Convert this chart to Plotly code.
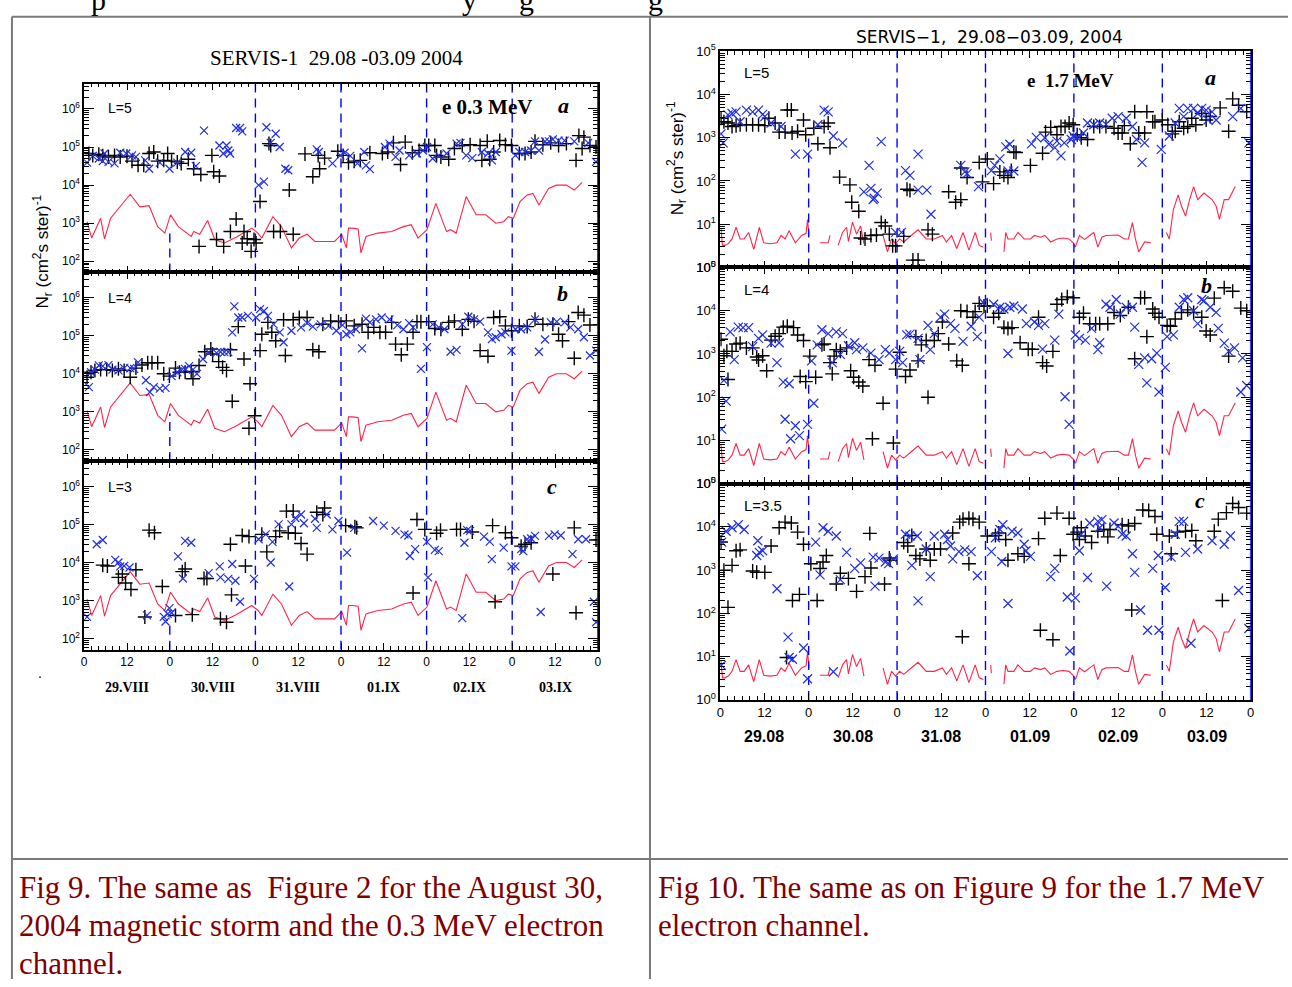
import plotly.graph_objects as go

W, H = 1292, 987

# ---------------- DATA ----------------
# time axis: hours since 29 Aug 2004 00 UT ; values are log10 of flux N_r (cm^2 s ster)^-1
HOUR_TICKS = list(range(0, 145, 12))
HOUR_TICK_TEXT = ["0", "12"] * 6 + ["0"]
DAY_BOUNDARIES = [24, 48, 72, 96, 120]
DATES_03 = ["29.VIII", "30.VIII", "31.VIII", "01.IX", "02.IX", "03.IX"]
DATES_17 = ["29.08", "30.08", "31.08", "01.09", "02.09", "03.09"]
L_SHELLS_03 = ["L=5", "L=4", "L=3"]
L_SHELLS_17 = ["L=5", "L=4", "L=3.5"]

# 0.3 MeV background (red line), same in all three panels
red_03 = [(0.8,3.04),(2.1,2.61),(4.6,3.13),(5.7,2.59),(7.4,3.13),(12.9,3.76),(15.6,3.43),(18.2,3.46),
          (20.6,2.91),(22.6,2.74),(24.2,3.22),(26.4,2.91),(30.0,2.65),(30.7,2.78),(32.4,2.71),(34.6,3.07),
          (36.6,2.57),(39.3,2.48),(42.6,2.63),(47.0,2.87),(48.7,2.74),(49.8,2.61),(52.9,3.17),(55.3,2.91),
          (58.1,2.35),(60.3,2.61),(62.5,2.71),(64.7,2.52),(70.2,2.52),(72.2,2.71),(73.5,2.35),(74.1,2.87),
          (75.2,2.87),(76.8,2.85),(77.6,2.22),(79.0,2.65),(82.3,2.74),(86.2,2.78),(89.5,2.91),(91.7,2.96),
          (93.6,2.61),(96.1,2.83),(98.6,3.52),(101.6,2.78),(102.7,2.83),(104.3,2.74),(107.1,3.70),(109.9,3.22),
          (112.6,3.22),(115.4,3.0),(117.6,3.04),(118.9,3.17),(120.3,3.13),(122.2,3.57),(124.2,3.74),(125.8,3.78),
          (127.5,3.48),(130.2,3.91),(132.4,4.0),(135.2,4.0),(137.4,3.87),(139.6,4.07)]

a03_plus = [(1.3,4.83),(2.4,4.78),(4.1,4.81),(5.2,4.77),(6.8,4.74),(8.5,4.78),(10.1,4.74),(12.0,4.76),(13.4,4.63),
            (15.1,4.52),(16.7,4.52),(18.2,4.83),(19.5,4.87),(20.6,4.63),(22.3,4.65),(23.4,4.83),(24.5,4.63),(26.1,4.61),
            (27.2,4.57),(29.2,4.68),(30.7,4.43),(32.7,4.28),(35.8,4.78),(36.3,4.35),(37.9,4.24),(42.6,3.11),(32.2,2.39),
            (37.1,2.57),(39.1,2.39),(41.0,2.78),(44.8,2.78),(44.3,2.48),(45.7,2.59),(46.8,2.26),(47.6,2.57),(48.2,2.48),
            (49.3,3.57),(51.8,5.09),(52.3,5.04),(53.1,2.78),(55.0,2.78),(58.6,2.71),(57.5,3.87),(61.9,4.82),(64.1,4.22),
            (66.0,4.43),(65.6,4.78),(67.4,4.71),(71.1,4.89),(72.6,4.78),(74.1,4.59),(75.7,4.63),(77.4,4.65),(80.1,4.85),
            (83.6,4.83),(85.1,4.87),(86.7,5.11),(88.7,4.54),(90.0,5.13),(92.0,4.85),(93.9,4.91),(95.5,5.04),(96.6,5.04),
            (98.3,5.04),(98.8,4.78),(100.0,4.74),(102.2,4.68),(103.8,4.96),(106.0,5.04),(108.2,5.06),(111.0,5.04),
            (111.5,4.65),(113.0,5.15),(113.7,4.68),(114.8,4.87),(116.5,5.17),(118.1,5.06),(119.8,5.04),(122.0,4.83),
            (123.6,4.83),(125.3,4.87),(126.4,5.15),(128.6,5.06),(130.8,5.11),(133.0,5.04),(135.2,5.09),(137.9,4.65),
            (138.7,5.30),(140.1,5.26),(139.6,4.96),(141.8,5.04),(143.5,5.0)]
a03_cross = [(0.8,4.59),(2.4,4.77),(4.1,4.70),(5.2,4.63),(5.7,4.83),(6.8,4.61),(8.5,4.57),(10.1,4.85),(11.8,4.83),
             (13.4,4.78),(14.5,4.74),(17.1,4.65),(18.2,4.43),(21.2,4.59),(23.9,4.43),(26.1,4.59),(28.3,4.87),(30.0,4.85),
             (31.3,4.50),(33.6,5.43),(37.9,5.04),(39.0,4.83),(39.9,5.04),(40.4,4.91),(40.9,4.83),(42.6,5.50),(43.7,5.50),
             (44.3,5.41),(48.9,4.0),(50.4,4.09),(51.1,5.52),(52.3,5.11),(53.7,5.35),(54.8,5.0),(56.4,4.43),(57.2,4.39),
             (65.2,4.94),(65.8,4.87),(69.6,4.57),(71.8,4.78),(73.0,4.85),(74.6,4.77),(76.6,4.57),(78.5,4.87),(79.0,4.52),
             (80.1,4.42),(84.3,5.0),(85.6,5.09),(87.3,4.74),(88.4,4.91),(91.1,4.78),(93.3,4.83),(95.0,4.91),(96.1,5.0),
             (97.7,4.70),(99.4,4.78),(101.6,4.83),(104.4,5.09),(105.5,5.11),(107.1,4.78),(108.8,4.71),(111.5,4.87),
             (113.2,4.83),(114.3,4.65),(115.4,4.87),(120.9,4.78),(122.0,4.87),(123.6,4.87),(125.3,4.91),(126.4,5.15),
             (127.5,4.91),(129.2,5.15),(130.3,5.15),(131.4,5.20),(133.0,5.17),(134.7,5.17),(137.4,5.15),(141.3,5.11),
             (143.5,4.61)]

b03_plus = [(0.8,3.91),(1.9,4.04),(3.0,4.09),(4.6,4.11),(6.3,4.11),(7.9,4.09),(9.6,4.13),(11.2,4.09),(12.9,3.91),
            (14.5,4.15),(16.2,4.23),(17.8,4.29),(19.0,4.29),(20.6,4.29),(22.3,4.0),(23.9,3.94),(25.6,4.15),(26.7,4.04),
            (28.3,4.04),(30.0,4.06),(30.5,3.87),(32.2,4.22),(33.8,4.58),(35.5,4.65),(36.0,4.52),(37.7,4.32),(38.8,4.17),
            (39.9,4.09),(41.0,4.63),(41.5,3.28),(43.2,5.24),(44.8,4.39),(46.5,3.74),(46.2,2.57),(47.8,2.90),(49.3,4.61),
            (49.8,5.04),(51.5,5.35),(52.6,5.09),(53.7,4.87),(55.9,5.42),(56.4,4.48),(58.6,5.42),(60.3,5.48),(62.5,5.48),
            (64.1,4.63),(65.8,4.58),(66.9,5.30),(69.1,5.39),(71.3,5.37),(73.5,5.39),(75.7,5.26),(77.9,5.30),(79.6,5.09),
            (81.2,5.22),(82.9,5.09),(84.5,5.09),(86.2,5.35),(87.3,4.78),(88.9,4.50),(90.6,4.78),(92.2,5.09),(93.3,5.37),
            (94.4,5.37),(96.6,5.37),(98.3,5.19),(100.0,5.17),(102.2,5.35),(103.8,5.39),(106.0,5.17),(107.7,5.43),
            (109.3,5.38),(111.0,4.61),(113.2,4.46),(114.8,5.48),(116.5,5.50),(118.1,5.26),(119.8,5.13),(122.0,5.26),
            (124.2,5.24),(126.4,5.43),(128.6,5.30),(131.4,5.30),(133.0,5.04),(134.1,4.87),(135.8,5.37),(137.4,4.41),
            (138.5,5.61),(140.1,5.54),(141.8,5.28)]
b03_cross = [(1.3,3.65),(1.9,4.04),(3.0,4.11),(4.1,4.22),(5.2,4.20),(6.8,4.23),(7.9,4.11),(9.6,4.09),(11.2,4.15),
             (12.9,4.15),(14.0,4.13),(15.1,4.30),(17.3,3.83),(18.4,3.52),(19.5,3.65),(21.2,3.61),(22.8,3.63),(24.5,3.94),
             (26.1,4.04),(27.2,4.09),(28.3,4.13),(29.4,4.20),(30.5,4.11),(31.6,4.0),(33.3,4.39),(34.9,4.57),(37.1,4.55),
             (38.2,4.58),(39.3,4.57),(40.4,4.57),(41.5,5.09),(42.1,5.77),(43.2,5.48),(44.3,5.48),(45.9,5.52),(48.2,5.48),
             (49.3,5.70),(50.4,5.65),(51.5,5.52),(53.1,5.30),(54.8,5.09),(55.9,4.83),(58.1,5.13),(60.8,5.22),(62.5,5.33),
             (64.1,5.24),(66.3,5.30),(68.5,5.26),(70.7,5.13),(72.4,5.28),(73.5,5.04),(74.6,5.09),(76.2,5.17),(77.9,4.67),
             (79.0,5.45),(80.1,5.35),(81.8,5.43),(83.4,5.48),(85.6,5.43),(87.8,5.28),(89.5,5.17),(91.1,5.33),(92.2,5.22),
             (94.4,4.13),(96.1,4.70),(97.7,5.30),(99.4,5.22),(101.0,5.17),(102.7,4.58),(104.4,4.63),(106.0,5.30),
             (107.7,5.50),(109.3,5.43),(111.0,5.37),(113.2,5.09),(114.3,4.91),(115.4,4.96),(117.0,5.04),(118.1,5.09),
             (119.8,4.61),(120.9,5.17),(122.5,5.17),(124.2,5.22),(126.4,5.43),(127.5,4.58),(129.2,4.90),(130.8,5.35),
             (132.5,5.37),(134.7,5.35),(136.3,5.22),(138.5,5.17),(140.1,4.96),(141.8,4.48),(143.5,4.61)]

c03_plus = [(5.2,3.93),(6.5,3.91),(9.6,3.61),(10.7,3.70),(11.6,3.46),(13.1,3.29),(14.5,3.81),(17.0,2.57),(18.2,4.85),
            (19.7,4.78),(21.9,3.37),(25.6,2.61),(27.5,3.76),(28.3,3.83),(30.3,2.63),(33.6,3.58),(34.4,3.58),(38.2,2.52),
            (39.9,2.43),(41.0,4.48),(41.3,3.15),(44.3,4.71),(46.2,4.68),(45.2,3.91),(49.8,4.74),(51.2,4.28),(53.7,4.68),
            (54.8,4.83),(56.7,5.35),(58.6,5.35),(57.2,4.78),(59.2,4.77),(60.8,4.50),(62.5,4.22),(65.2,5.32),(67.4,5.43),
            (66.9,5.26),(73.3,4.97),(75.9,4.94),(76.4,4.91),(92.2,3.20),(93.3,5.13),(95.5,4.87),(98.8,4.77),(99.9,4.85),
            (104.4,4.87),(105.5,4.87),(108.8,4.80),(114.5,4.97),(115.2,2.97),(118.1,4.78),(119.8,4.65),(122.5,4.43),
            (123.6,4.48),(125.3,4.52),(131.4,3.70),(137.4,4.91),(137.9,2.68),(143.5,4.59)]
c03_cross = [(0.8,2.57),(3.5,4.48),(5.2,4.59),(8.7,4.07),(9.6,4.0),(10.1,3.90),(11.2,3.91),(12.7,3.87),(17.6,2.61),
             (22.3,2.57),(22.8,2.45),(23.4,2.65),(23.9,2.80),(24.5,2.68),(26.3,4.16),(27.7,3.58),(28.3,4.57),(30.0,4.52),
             (34.9,3.72),(38.0,3.90),(38.2,3.61),(40.4,3.57),(41.5,3.96),(42.4,3.52),(43.7,2.97),(47.6,3.57),(48.9,4.61),
             (50.9,4.74),(52.3,4.0),(52.8,4.54),(54.5,5.0),(57.5,3.37),(58.1,5.0),(59.2,5.17),(60.8,5.26),(61.6,5.03),
             (64.7,5.15),(65.2,4.91),(68.0,5.26),(69.6,4.87),(71.3,5.09),(73.7,4.26),(75.7,4.91),(81.0,5.09),(84.0,4.97),
             (87.3,4.83),(89.8,4.74),(90.9,4.71),(91.3,4.17),(92.8,4.35),(96.1,4.54),(96.4,3.61),(98.3,4.33),(99.4,4.30),
             (106.0,2.54),(106.6,4.52),(107.4,4.85),(108.2,4.83),(112.1,4.68),(113.7,4.55),(114.3,4.09),(117.6,4.39),
             (119.8,3.90),(120.9,3.90),(122.5,4.35),(123.1,4.30),(124.2,4.61),(125.3,4.63),(126.4,4.70),(128.0,2.70),
             (130.3,4.70),(131.9,4.74),(133.6,4.71),(136.9,4.22),(138.5,4.61),(140.7,4.61),(142.9,2.97),(143.5,2.43)]

# 1.7 MeV background (red line, gaps = no data), same in all three panels
red_17 = [(0.2,0.90),(0.6,0.51),(1.3,0.51),(2.2,0.55),(3.2,0.66),(4.3,0.93),(5.4,0.66),(6.5,0.66),(7.7,0.81),
          (9.1,0.42),(10.6,0.93),(11.8,0.57),(13.5,0.55),(15.4,0.57),(16.5,0.74),(17.6,0.66),(18.7,0.85),(20.4,0.57),
          (22.1,0.74),(23.3,0.79),(23.7,1.11),(24.1,0.74), None,
          (27.1,0.57),(29.3,0.57),(29.8,0.74), None,
          (32.0,0.51),(33.2,0.81),(34.3,0.93),(34.8,0.60),(35.9,1.05),(37.0,0.77),(38.1,0.96),(39.0,0.55), None,
          (44.2,0.74),(45.4,0.36),(46.5,0.66),(47.6,0.55),(48.7,0.66),(49.8,0.59),(52.0,0.75),(53.7,0.87),(55.9,0.66),
          (58.1,0.66),(60.3,0.74),(61.4,0.59),(62.8,0.74),(64.2,0.44),(65.9,0.81),(67.5,0.40),(69.2,0.81),(70.3,0.51),
          (71.4,0.47), None,
          (73.4,0.81),(73.6,0.62), None,
          (77.0,0.36),(77.5,0.81),(78.1,0.66),(79.7,0.66),(80.8,0.81),(82.5,0.66),(84.2,0.66),(85.3,0.74),(86.9,0.70),
          (88.1,0.74),(89.7,0.59),(91.4,0.66),(93.0,0.68),(94.7,0.66),(95.8,0.57),(96.4,0.47),(97.5,0.74),(98.9,0.65),
          (100.3,0.74),(101.4,0.81),(102.5,0.47),(103.6,0.70),(104.7,0.74),(106.4,0.75),(108.0,0.75),(109.7,0.66),
          (110.8,0.66),(111.9,1.04),(112.7,0.66),(113.6,0.36),(115.2,0.59),(116.9,0.57), None,
          (121.1,0.81),(121.9,0.66),(123.0,1.34),(124.3,1.68),(125.2,1.42),(126.3,1.19),(127.4,1.57),(128.5,1.87),
          (129.6,1.57),(131.3,1.72),(133.5,1.57),(134.6,1.42),(135.5,1.11),(136.8,1.57),(138.0,1.57),(139.8,1.87)]

a17_plus = [(0.2,3.45),(1.0,3.37),(2.1,3.34),(3.2,3.26),(4.3,3.28),(5.4,3.30),(7.1,3.30),(8.8,3.30),(10.4,3.30),
            (12.1,3.28),(13.2,3.45),(14.9,3.34),(16.0,3.13),(18.2,3.64),(19.3,3.64),(17.6,3.13),(19.5,3.11),(21.0,3.15),
            (22.6,3.41),(23.2,3.07),(25.4,3.22),(26.5,2.86),(28.2,3.26),(29.8,2.77),(29.3,3.34),(32.4,2.09),(35.2,1.91),
            (35.7,1.51),(37.6,1.30),(38.1,0.68),(39.3,0.66),(40.9,0.74),(42.4,0.75),(43.7,1.04),(44.8,0.96),(45.9,0.77),
            (46.8,0.50),(47.6,0.50),(49.8,0.72),(50.7,1.81),(51.5,1.78),(52.3,0.17),(53.7,0.17),(56.4,0.87),(57.6,0.77),
            (62.0,1.75),(63.9,1.51),(65.3,1.57),(65.3,2.30),(67.0,2.08),(70.3,2.43),(71.2,1.98),(72.5,2.51),(74.2,1.94),
            (75.9,2.21),(77.0,2.13),(78.1,2.08),(79.0,2.24),(79.7,2.67),(80.3,2.66),(84.2,2.36),(87.5,2.64),(88.3,3.13),
            (89.7,3.24),(91.4,3.07),(92.5,3.26),(93.6,3.26),(94.7,3.34),(95.8,3.30),(96.9,3.07),(98.0,3.0),(99.7,2.96),
            (101.4,3.26),(103.0,3.26),(104.7,3.26),(106.9,3.22),(108.0,3.11),(109.1,3.11),(109.7,3.28),(111.3,2.86),
            (112.5,3.60),(113.6,3.11),(115.2,3.11),(115.8,3.60),(117.4,3.37),(118.0,3.37),(120.0,3.41),(121.5,3.30),
            (122.7,3.09),(123.5,3.15),(124.6,3.37),(125.8,3.22),(126.9,3.26),(128.0,3.45),(129.1,3.30),(130.7,3.56),
            (131.9,3.41),(133.0,3.49),(135.7,3.69),(138.0,3.15),(139.1,3.90),(140.7,3.75),(142.9,3.60)]
a17_cross = [(0.2,3.09),(0.8,2.88),(2.1,3.53),(3.2,3.56),(4.3,3.60),(5.4,3.37),(7.1,3.64),(8.8,3.60),(10.4,3.64),
             (11.5,3.54),(12.1,3.49),(13.8,3.34),(16.5,3.26),(20.4,2.62),(23.7,2.62),(26.5,3.30),(28.2,3.64),(29.3,3.60),
             (30.7,3.04),(33.2,2.88),(39.0,1.75),(40.4,2.36),(40.9,1.83),(41.5,1.57),(41.8,1.60),(42.6,1.72),(43.7,2.91),
             (47.6,0.81),(49.2,0.81),(50.3,2.24),(51.5,2.13),(53.7,2.62),(53.7,1.79),(56.1,1.79),(57.2,1.23),(65.3,2.36),
             (66.4,2.21),(67.0,2.17),(70.1,1.87),(73.6,2.24),(74.5,2.36),(75.9,2.51),(77.5,2.79),(78.6,2.85),(78.1,2.23),
             (79.7,2.23),(84.5,2.86),(85.8,3.01),(88.1,3.0),(89.2,2.85),(90.8,2.77),(91.4,2.92),(92.5,2.58),(93.4,2.88),
             (95.3,2.96),(95.8,3.04),(96.9,3.0),(98.6,3.11),(99.7,3.34),(101.4,3.30),(103.0,3.34),(104.7,3.31),
             (106.4,3.45),(108.0,3.49),(110.2,3.45),(111.9,3.26),(113.0,2.96),(114.5,2.43),(115.2,2.88),(119.7,2.73),
             (121.9,3.04),(123.5,3.34),(124.6,3.68),(125.8,3.49),(126.9,3.68),(128.5,3.68),(129.6,3.56),(130.7,3.68),
             (131.9,3.64),(132.4,3.41),(133.5,3.60),(134.6,3.41),(139.1,3.49),(141.3,3.68),(143.5,2.88)]

b17_plus = [(0.2,3.34),(2.1,2.41),(1.0,2.96),(1.8,3.06),(3.2,3.06),(4.3,3.23),(5.4,3.25),(7.1,3.14),(8.8,3.14),
            (9.9,2.93),(10.4,2.86),(11.5,2.96),(12.6,2.61),(13.8,3.32),(14.9,3.41),(16.0,3.47),(17.1,3.62),(18.2,3.64),
            (19.9,3.61),(21.0,3.44),(22.6,3.31),(21.7,2.48),(23.2,2.36),(24.3,2.95),(25.9,2.46),(27.6,3.21),(28.2,3.23),
            (29.8,2.80),(30.4,2.54),(30.9,2.95),(31.5,3.10),(32.6,3.06),(34.3,3.14),(35.4,2.61),(36.2,2.46),(37.6,2.35),
            (38.7,2.26),(40.4,2.87),(42.0,2.74),(44.2,1.86),(41.3,1.04),(47.0,0.94),(47.6,2.65),(48.7,3.04),(50.3,2.48),
            (51.5,2.63),(53.1,3.40),(53.7,2.84),(54.6,3.21),(55.9,3.31),(56.4,2.0),(58.1,3.31),(59.2,3.47),(60.3,3.74),
            (62.0,3.23),(64.2,2.84),(65.7,2.74),(65.3,4.0),(67.0,3.98),(68.6,3.85),(69.2,3.98),(70.3,4.17),(71.6,4.11),
            (72.5,4.11),(74.2,3.85),(75.6,3.94),(77.0,3.62),(78.1,3.59),(79.2,3.61),(81.4,3.26),(83.6,3.11),(84.7,3.11),
            (86.4,3.85),(87.5,2.80),(88.6,2.72),(90.3,3.06),(91.4,4.15),(92.7,4.26),(94.2,4.32),(95.8,4.30),(97.5,3.85),
            (98.6,3.94),(100.3,3.70),(101.9,3.70),(103.0,3.70),(105.2,3.70),(106.9,3.96),(108.6,3.89),(110.8,4.08),
            (112.5,2.89),(114.1,4.30),(115.2,4.30),(115.8,3.40),(117.4,4.04),(118.0,3.94),(119.1,3.85),(121.3,3.66),
            (122.2,3.64),(123.5,3.81),(125.2,3.96),(126.9,4.02),(128.5,3.96),(130.7,3.85),(131.9,3.53),(133.0,3.44),
            (134.1,4.29),(136.8,4.53),(138.0,2.95),(139.1,4.45),(141.3,4.06),(142.9,4.0)]
b17_cross = [(0.4,1.26),(1.0,2.39),(1.6,1.91),(2.7,3.51),(3.8,2.87),(4.9,3.62),(6.2,3.61),(7.7,3.61),(8.8,3.17),
             (10.4,3.36),(11.5,3.44),(13.8,3.25),(15.4,2.80),(16.0,3.26),(17.1,2.35),(18.7,2.31),(17.6,1.49),(19.1,1.04),
             (20.4,1.34),(21.5,1.11),(23.7,1.37),(24.8,2.84),(25.4,1.86),(26.3,3.21),(27.6,3.56),(29.3,3.47),(30.4,2.80),
             (31.5,3.51),(33.2,3.47),(32.6,2.99),(34.8,3.19),(36.5,3.26),(37.0,3.10),(38.7,3.14),(40.9,3.02),(43.1,2.87),
             (44.8,3.10),(45.9,3.02),(47.6,2.87),(48.7,3.06),(49.5,2.80),(50.6,3.44),(51.5,3.46),(53.7,3.36),(54.2,2.87),
             (56.4,3.66),(57.0,3.10),(58.1,3.47),(59.8,3.85),(60.9,3.92),(62.5,3.70),(63.7,3.59),(65.9,3.29),(68.1,3.64),
             (69.8,3.40),(70.3,3.85),(71.4,4.19),(74.2,4.15),(75.9,4.08),(77.0,4.04),(78.6,4.08),(78.1,3.01),(79.7,4.11),
             (82.0,4.04),(83.1,3.70),(85.3,3.74),(86.4,3.66),(87.5,3.11),(88.1,3.70),(90.8,3.32),(91.9,3.92),(93.6,2.01),
             (94.7,1.37),(96.4,3.44),(97.5,3.36),(99.1,3.32),(100.8,3.59),(102.5,3.10),(103.0,3.26),(104.7,4.15),
             (105.8,4.08),(107.5,4.26),(108.6,3.92),(110.2,4.08),(111.9,4.08),(112.5,3.62),(113.6,2.76),(115.2,2.91),
             (115.8,2.33),(117.1,2.89),(118.5,3.02),(119.1,2.12),(120.8,2.69),(121.3,3.40),(123.0,3.44),(124.6,4.08),
             (125.8,4.26),(126.9,4.30),(128.5,4.0),(129.6,3.70),(130.7,4.26),(131.3,4.23),(133.0,4.08),(134.6,3.96),
             (135.2,3.59),(136.8,3.25),(138.0,3.06),(139.6,3.14),(141.8,2.91),(141.3,2.12),(142.9,2.27)]

c17_plus = [(0.2,3.65),(1.0,3.0),(2.1,2.14),(3.2,3.11),(4.3,3.45),(5.4,3.47),(8.8,2.98),(9.9,2.95),(12.1,2.95),
            (13.8,3.56),(16.0,3.98),(17.6,4.11),(19.3,4.09),(21.0,3.88),(22.6,3.60),(19.6,2.30),(21.5,2.44),(18.0,0.98),
            (24.6,3.15),(26.3,2.30),(27.1,3.04),(27.9,3.19),(28.8,3.34),(31.5,2.68),(32.6,2.93),(34.8,2.81),(37.0,2.51),
            (39.3,2.85),(40.9,3.05),(40.6,3.85),(44.6,2.68),(45.9,3.28),(46.1,3.23),(49.8,3.64),(50.9,3.56),(52.0,3.80),
            (53.1,3.34),(54.2,3.26),(55.9,3.49),(57.0,3.23),(58.1,3.49),(59.8,3.49),(63.1,3.86),(65.0,4.11),(65.9,4.18),
            (67.5,4.20),(68.6,4.18),(70.3,4.11),(65.7,1.46),(67.5,3.15),(72.5,3.79),(74.7,3.80),(75.6,3.86),(77.5,3.71),
            (78.1,3.23),(80.8,3.38),(82.5,3.32),(86.4,3.73),(86.9,1.61),(88.1,4.20),(90.3,1.39),(91.4,4.32),(92.3,3.34),
            (94.7,4.20),(95.8,3.83),(96.9,3.88),(98.0,3.98),(97.5,3.71),(99.1,3.79),(100.8,3.64),(102.5,3.90),(104.1,3.94),
            (105.2,3.77),(105.8,3.94),(109.1,4.05),(110.8,4.02),(111.7,2.08),(112.5,4.08),(114.7,4.39),(116.3,4.38),
            (118.0,4.24),(118.5,3.83),(121.9,3.79),(122.4,3.38),(124.1,3.88),(126.3,3.90),(128.0,3.92),(129.1,3.68),
            (134.1,3.90),(135.2,4.18),(136.3,2.30),(137.4,4.33),(139.1,4.54),(140.7,4.45),(142.9,4.32)]
c17_cross = [(0.3,0.80),(0.4,3.65),(1.6,3.90),(3.2,3.98),(4.9,4.05),(6.5,3.94),(10.2,3.68),(9.9,3.34),(10.6,3.41),
             (11.5,3.45),(15.4,2.57),(18.4,1.45),(22.6,1.20),(18.7,0.98),(19.6,0.94),(23.7,0.49),(25.9,3.65),(27.1,2.89),
             (27.9,3.98),(29.3,3.90),(31.5,3.79),(30.7,0.65),(32.6,2.78),(34.3,3.41),(36.5,3.04),(38.1,3.17),(41.5,3.30),
             (42.0,2.63),(43.1,3.28),(44.8,3.19),(45.7,3.15),(47.0,3.26),(50.3,3.83),(51.5,3.79),(52.0,3.11),(53.5,3.79),
             (53.7,2.29),(55.9,3.49),(57.0,2.85),(58.1,3.79),(60.9,3.83),(61.7,3.71),(62.5,3.56),(63.1,3.26),(64.8,3.43),
             (66.4,3.47),(68.1,3.43),(69.8,2.87),(73.6,3.43),(74.7,3.75),(75.9,3.94),(76.7,4.05),(76.4,3.20),(78.1,2.23),
             (79.2,3.90),(80.8,3.86),(82.5,3.60),(83.0,3.45),(84.2,3.32),(89.7,2.85),(90.8,3.04),(94.2,2.38),(94.9,1.13),
             (96.4,2.36),(97.5,3.45),(98.0,3.83),(99.7,2.83),(100.3,4.09),(102.5,4.13),(103.0,3.98),(103.6,4.17),
             (104.9,2.63),(106.9,4.09),(108.0,4.02),(109.1,3.83),(110.2,3.79),(111.9,3.38),(112.5,2.95),(114.1,2.08),
             (116.0,1.61),(117.4,3.04),(118.9,3.34),(119.1,1.61),(120.8,2.60),(122.4,3.30),(123.5,3.83),(124.6,4.13),
             (125.8,4.13),(126.3,3.41),(127.8,1.31),(129.6,3.49),(133.5,3.68),(136.8,3.60),(138.5,3.79),(140.7,2.53),
             (143.5,1.65)]

# level (log10) where the first (00 UT 30.08) dashed day-marker starts in each panel (None = full height)
first_marker_start_03 = [2.78, 2.96, 2.5]
first_marker_start_17 = [3.0, 2.76, None]

# ---------------- LAYOUT HELPERS ----------------
def px(x):
    return x / W

def py(y):
    return 1 - y / H

def unzip(pts):
    hx = [p[0] if p is not None else None for p in pts]
    fy = [10 ** p[1] if p is not None else None for p in pts]
    return hx, fy

LEFT_X = [px(80.7), px(597.5)]
RIGHT_X = [px(720.7), px(1254.5)]
LEFT_TOPS = [76, 268, 460, 652]
RIGHT_TOPS = [43, 263, 483, 703]
LEFT_YR = [1.708, 6.664]
RIGHT_YR = [0.0, 5.0]

BLUE = "#0000ff"
XBLUE = "#1f2fe6"
RED = "#ff2448"

fig = go.Figure()
panels = []
for i in range(3):
    panels.append(dict(xd=LEFT_X, yd=[py(LEFT_TOPS[i + 1]), py(LEFT_TOPS[i])], yr=LEFT_YR,
                       red=red_03, plus=[a03_plus, b03_plus, c03_plus][i],
                       cross=[a03_cross, b03_cross, c03_cross][i], first=first_marker_start_03[i],
                       decs=[2, 3, 4, 5, 6], bottom=(i == 2), fs=12, msize=(10, 8)))
for i in range(3):
    panels.append(dict(xd=RIGHT_X, yd=[py(RIGHT_TOPS[i + 1]), py(RIGHT_TOPS[i])], yr=RIGHT_YR,
                       red=red_17, plus=[a17_plus, b17_plus, c17_plus][i],
                       cross=[a17_cross, b17_cross, c17_cross][i], first=first_marker_start_17[i],
                       decs=[0, 1, 2, 3, 4, 5], bottom=(i == 2), fs=13, msize=(10, 9)))

layout_axes = {}
shapes = []
for k, p in enumerate(panels):
    n = k + 1
    xa = "x" if n == 1 else f"x{n}"
    ya = "y" if n == 1 else f"y{n}"
    lo, hi = p["yr"]
    hx, fy = unzip(p["red"])
    fig.add_trace(go.Scatter(x=hx, y=fy, mode="lines", line=dict(color=RED, width=1.1),
                             connectgaps=False, xaxis=xa, yaxis=ya, hoverinfo="skip"))
    dx, dy = [], []
    for j, d in enumerate(DAY_BOUNDARIES):
        top = hi
        if j == 0 and p["first"] is not None:
            top = p["first"]
        dx += [d, d, None]
        dy += [10 ** lo, 10 ** top, None]
    fig.add_trace(go.Scatter(x=dx, y=dy, mode="lines", line=dict(color=BLUE, width=1.4, dash="9px,6px"),
                             xaxis=xa, yaxis=ya, hoverinfo="skip"))
    hx, fy = unzip(p["plus"])
    fig.add_trace(go.Scatter(x=hx, y=fy, mode="markers", xaxis=xa, yaxis=ya,
                             marker=dict(symbol="cross-thin", size=p["msize"][0], color="black",
                                         line=dict(color="black", width=1.4))))
    hx, fy = unzip(p["cross"])
    fig.add_trace(go.Scatter(x=hx, y=fy, mode="markers", xaxis=xa, yaxis=ya,
                             marker=dict(symbol="x-thin", size=p["msize"][1], color=XBLUE,
                                         line=dict(color=XBLUE, width=1.2))))
    shapes.append(dict(type="line", xref=xa, yref=f"{ya} domain", x0=144, x1=144, y0=0, y1=1,
                       line=dict(color=BLUE, width=1.6), layer="above"))

    tickfont = dict(family="Liberation Sans, Arial, sans-serif", size=p["fs"], color="black")
    layout_axes["xaxis" if n == 1 else f"xaxis{n}"] = dict(
        domain=p["xd"], anchor=ya, range=[0, 144], tickmode="array", tickvals=HOUR_TICKS,
        ticktext=HOUR_TICK_TEXT, showticklabels=p["bottom"], ticks="inside", ticklen=7, tickwidth=1,
        tickcolor="black", showline=True, linecolor="black", linewidth=1.6, mirror="allticks",
        showgrid=False, zeroline=False, tickfont=tickfont,
        minor=dict(ticks="inside", ticklen=4, tick0=0, dtick=2, tickcolor="black", tickwidth=1, showgrid=False))
    minor_vals = [m * 10 ** e for e in range(-1, 7) for m in range(2, 10)]
    layout_axes["yaxis" if n == 1 else f"yaxis{n}"] = dict(
        domain=p["yd"], anchor=xa, type="log", range=[lo, hi], tickmode="array",
        tickvals=[10 ** e for e in p["decs"]], ticktext=[f"10<sup>{e}</sup>" for e in p["decs"]],
        ticks="inside", ticklen=10, tickwidth=1, tickcolor="black", showline=True, linecolor="black",
        linewidth=1.6, mirror="allticks", showgrid=False, zeroline=False, tickfont=tickfont,
        minor=dict(ticks="inside", ticklen=5, tickmode="array", tickvals=minor_vals, tickcolor="black",
                   tickwidth=1, showgrid=False))

# table frame
GRAY = "#7a7a7a"
for (x0, y0, x1, y1) in [(8, 8, 1292, 8), (8, 8, 8, 987), (650, 8, 650, 987), (8, 865, 1292, 865)]:
    shapes.append(dict(type="line", xref="paper", yref="paper", x0=px(x0), x1=px(x1), y0=py(y0), y1=py(y1),
                       line=dict(color=GRAY, width=2), layer="above"))

SANS = "Liberation Sans, Arial, sans-serif"
SERIF = "Liberation Serif, Times New Roman, serif"
ann = []

def text(x, y, s, size, family=SANS, color="black", xanchor="center", angle=0, yanchor="middle"):
    ann.append(dict(x=px(x), y=py(y), xref="paper", yref="paper", text=s, showarrow=False,
                    font=dict(family=family, size=size, color=color), xanchor=xanchor,
                    yanchor=yanchor, textangle=angle))

# titles
text(335, 50, "SERVIS-1\u00a0\u00a029.08 -03.09 2004", 21, SERIF)
text(992, 28, "SERVIS\u22121,\u00a0\u00a029.08\u221203.09,\u00a02004", 17, "DejaVu Sans, sans-serif")
# y-axis titles
ytitle = "N<sub>r</sub> (cm<sup>2</sup>s ster)<sup>-1</sup>"
text(39, 247, ytitle, 17, angle=-90)
text(677, 152, ytitle, 17, angle=-90)
# panel labels (left)
for s, yy in zip(L_SHELLS_03, [101, 294, 486]):
    text(103, yy, s, 14, xanchor="left")
text(439, 100, "<b>e 0.3 MeV</b>", 21, SERIF, xanchor="left")
text(563, 98, "<b><i>a</i></b>", 22, SERIF)
text(562, 289, "<b><i>b</i></b>", 22, SERIF)
text(551, 486, "<b><i>c</i></b>", 22, SERIF)
# panel labels (right)
for s, yy in zip(L_SHELLS_17, [65, 285, 505]):
    text(743, yy, s, 15, xanchor="left")
text(1027, 73, "<b>e\u00a0 1.7 MeV</b>", 19, SERIF, xanchor="left")
text(1214, 70, "<b><i>a</i></b>", 22, SERIF)
text(1210, 281, "<b><i>b</i></b>", 22, SERIF)
text(1203, 500, "<b><i>c</i></b>", 22, SERIF)

# date labels under the time axis (centred at noon of each day)
for j, s in enumerate(DATES_03):
    ann.append(dict(x=12 + 24 * j, y=py(690), xref="x3", yref="paper", text=f"<b>{s}</b>", showarrow=False,
                    font=dict(family=SERIF, size=14, color="black"), yanchor="middle"))
for j, s in enumerate(DATES_17):
    ann.append(dict(x=12 + 24 * j, y=py(740), xref="x6", yref="paper", text=f"<b>{s}</b>", showarrow=False,
                    font=dict(family=SANS, size=16, color="black"), yanchor="middle"))
text(36, 676, ".", 14)

# captions
CAP = "#800000"
cap_l = ["Fig 9. The same as\u00a0 Figure 2 for the August 30,", "2004 magnetic storm and the 0.3 MeV electron",
         "channel."]
cap_r = ["Fig 10. The same as on Figure 9 for the 1.7 MeV", "electron channel."]
for j, s in enumerate(cap_l):
    text(13, 894 + 38.5 * j, s, 31, SERIF, CAP, xanchor="left")
for j, s in enumerate(cap_r):
    text(656, 894 + 38.5 * j, s, 31, SERIF, CAP, xanchor="left")

# descenders of the cropped line of text above the figure
for xx, s in [(95, "p"), (468, "y"), (526, "g"), (656, "g")]:
    text(xx, -10, s, 30, SERIF)

fig.update_layout(width=W, height=H, margin=dict(l=0, r=0, t=0, b=0), paper_bgcolor="white",
                  plot_bgcolor="white", showlegend=False, annotations=ann, shapes=shapes,
                  font=dict(family=SANS, color="black"), **layout_axes)

fig.write_html("out.html")
